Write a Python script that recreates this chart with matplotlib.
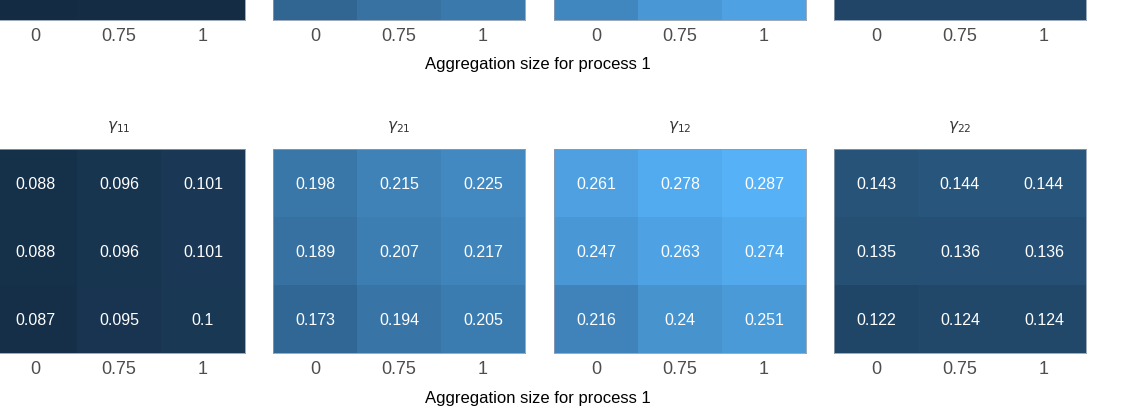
import matplotlib

matplotlib.use("Agg")
import matplotlib.pyplot as plt  # noqa: E402
import numpy as np  # noqa: E402
from matplotlib.colors import LinearSegmentedColormap, Normalize  # noqa: E402

plt.rcParams["font.family"] = ["Liberation Sans", "DejaVu Sans"]

# categorias de tamano de agregacion (procesos 1 y 2)
agg_sizes = ["0", "0.75", "1"]
panel_titles = [r"$\gamma_{11}$", r"$\gamma_{21}$", r"$\gamma_{12}$", r"$\gamma_{22}$"]

# fila inferior: filas = tamano proceso 2 (0, 0.75, 1) de abajo hacia arriba
gamma11 = [[0.087, 0.095, 0.1], [0.088, 0.096, 0.101], [0.088, 0.096, 0.101]]
gamma21 = [[0.173, 0.194, 0.205], [0.189, 0.207, 0.217], [0.198, 0.215, 0.225]]
gamma12 = [[0.216, 0.24, 0.251], [0.247, 0.263, 0.274], [0.261, 0.278, 0.287]]
gamma22 = [[0.122, 0.124, 0.124], [0.135, 0.136, 0.136], [0.143, 0.144, 0.144]]

# fila superior (solo se ve la fila de abajo de cada panel)
top_p1 = [0.080, 0.082, 0.083]
top_p2 = [0.172, 0.190, 0.200]
top_p3 = [0.222, 0.248, 0.262]
top_p4 = [0.120, 0.121, 0.121]

xlabel = "Aggregation size for process 1"

bottom_data = [gamma11, gamma21, gamma12, gamma22]
top_data = [top_p1, top_p2, top_p3, top_p4]

cmap = LinearSegmentedColormap.from_list("gg", ["#132B43", "#56B1F7"])
all_vals = np.concatenate([np.ravel(d) for d in bottom_data] + [np.ravel(d) for d in top_data])
norm = Normalize(vmin=all_vals.min(), vmax=all_vals.max())

W, H = 1124, 420
fig = plt.figure(figsize=(W / 100, H / 100), dpi=100)

lefts = [-7, 273, 554, 834]
pw, ph = 252, 204


def style_axis(ax):
    ax.set_xticks(range(len(agg_sizes)))
    ax.set_xticklabels(agg_sizes, fontsize=13, color="#4D4D4D")
    ax.set_yticks([])
    ax.tick_params(axis="x", length=0, pad=6)
    ax.set_xlim(-0.5, 2.5)
    ax.set_ylim(-0.5, 2.5)
    for sp in ax.spines.values():
        sp.set_color("#8a9bb0")
        sp.set_linewidth(0.6)


# fila superior, recortada por el borde de la figura
for i, vals in enumerate(top_data):
    ax = fig.add_axes([lefts[i] / W, (H - 20) / H, pw / W, ph / H])
    ax.pcolormesh(
        np.arange(4) - 0.5, np.array([-0.5, 0.5]), np.array([vals]),
        cmap=cmap, norm=norm, shading="flat",
    )
    style_axis(ax)

fig.text(538 / W, 1 - 65 / H, xlabel, ha="center", va="center", fontsize=12)

# fila inferior
for i, data in enumerate(bottom_data):
    ax = fig.add_axes([lefts[i] / W, (H - 353) / H, pw / W, ph / H])
    arr = np.array(data)
    ax.pcolormesh(
        np.arange(4) - 0.5, np.arange(4) - 0.5, arr,
        cmap=cmap, norm=norm, shading="flat",
    )
    for r in range(arr.shape[0]):
        for c in range(arr.shape[1]):
            ax.text(c, r, f"{arr[r, c]:g}", ha="center", va="center_baseline",
                    color="white", fontsize=11.5)
    style_axis(ax)
    ax.set_title(panel_titles[i], fontsize=11, color="#333333", pad=14)

fig.text(538 / W, 1 - 399 / H, xlabel, ha="center", va="center", fontsize=12)

fig.savefig("out.png", dpi=100)
